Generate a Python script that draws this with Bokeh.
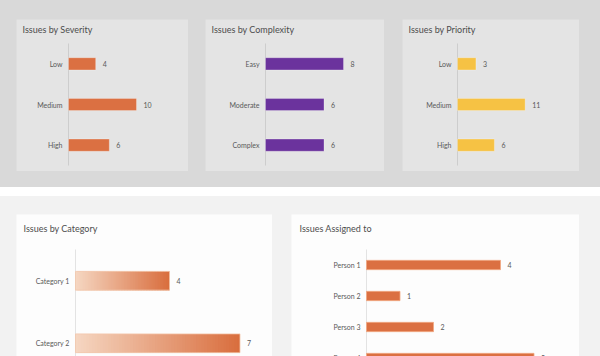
from bokeh.plotting import figure
from bokeh.layouts import row, column
from bokeh.models import Range1d, ColumnDataSource, Label
from bokeh.embed import file_html
from bokeh.resources import INLINE

# ---------------- data ----------------
severity_cats = ["Low", "Medium", "High"]
severity_vals = [4, 10, 6]
complexity_cats = ["Easy", "Moderate", "Complex"]
complexity_vals = [8, 6, 6]
priority_cats = ["Low", "Medium", "High"]
priority_vals = [3, 11, 6]
category_cats = ["Category 1", "Category 2"]
category_vals = [4, 7]
person_cats = ["Person 1", "Person 2", "Person 3", "Person 4"]
person_vals = [4, 1, 2, 5]

FONT = "Lato"
TITLE_COLOR = "#4d4d4d"
LABEL_COLOR = "#595959"
ORANGE = "#db7042"
PURPLE = "#6b339d"
YELLOW = "#f6c244"


def panel(title, cats, vals, width, height, axis_left, px_per_unit, axis_top,
          band_px, title_left, title_center, bg, axis_color):
    """A panel whose plotting area is the whole card; the value axis starts at
    axis_left px, the category bands start axis_top px below the card's top."""
    pos = [i + 0.5 for i in range(len(cats))]
    p = figure(width=width, height=height,
               x_range=Range1d(-axis_left / px_per_unit, (width - axis_left) / px_per_unit),
               y_range=Range1d((height - axis_top) / band_px, -axis_top / band_px),
               x_axis_type=None, y_axis_type=None,
               min_border=0, min_border_left=0, min_border_right=0,
               min_border_top=0, min_border_bottom=0,
               toolbar_location=None, output_backend="svg")
    p.background_fill_color = bg
    p.border_fill_color = bg
    p.outline_line_color = None
    p.xgrid.visible = False
    p.ygrid.visible = False
    src = ColumnDataSource(dict(y=pos, cat=cats, val=vals, lab=[str(v) for v in vals],
                                zero=[0] * len(cats)))
    # category labels (axis labels) and value axis line
    p.text(x="zero", y="y", text="cat", source=src, x_offset=-6, text_align="right",
           text_baseline="middle", text_font_size="7px", text_color=LABEL_COLOR,
           text_font={"value": FONT})
    p.add_layout(Label(x=title_left, y=(title_center - axis_top) / band_px,
                       x_units="screen", y_units="data", text=title,
                       text_font=FONT, text_font_size="9px", text_color=TITLE_COLOR,
                       text_baseline="middle", text_align="left"))
    return p, src, pos


def top_panel(title, cats, vals, color, width, axis_left, ppu):
    n = len(cats)
    band = 122 / n
    p, src, pos = panel(title, cats, vals, width, 152, axis_left, ppu, 24, band,
                        6, 10, "#e4e4e4", "#cdcdcd")
    p.segment(x0=[0], y0=[0], x1=[0], y1=[n], line_color="#cdcdcd", line_width=1)
    p.hbar(y="y", left=0, right="val", height=0.3, source=src,
           fill_color=color, line_color="white", line_alpha=0.35, line_width=0.8)
    p.text(x="val", y="y", text="lab", source=src, x_offset=7,
           text_baseline="middle", text_font_size="7px", text_color=LABEL_COLOR,
           text_font={"value": FONT})
    return p


p1 = top_panel("Issues by Severity", severity_cats, severity_vals, ORANGE, 172, 52, 6.8)
p1.margin = (19, 0, 16, 16)
p2 = top_panel("Issues by Complexity", complexity_cats, complexity_vals, PURPLE, 179, 60, 9.75)
p2.margin = (19, 0, 16, 17)
p3 = top_panel("Issues by Priority", priority_cats, priority_vals, YELLOW, 177, 55, 6.15)
p3.margin = (19, 0, 16, 18)


def bottom_panel(title, cats, vals, width, axis_left, ppu, band, title_left):
    p, src, pos = panel(title, cats, vals, width, 142, axis_left, ppu, 35, band,
                        title_left, 14, "#fdfdfd", "#e3e3e3")
    p.segment(x0=[0], y0=[0], x1=[0], y1=[(142 - 35) / band], line_color="#e3e3e3",
              line_width=1)
    return p, src, pos


# Issues by Category (gradient bars)
p4, src4, pos4 = bottom_panel("Issues by Category", category_cats, category_vals,
                              256, 59, 23.5, 62.5, 7)
p4.margin = (18, 0, 0, 16)
light = (245, 214, 193)
dark = (217, 110, 62)
nsl = 60
for yv, v in zip(pos4, category_vals):
    lefts, rights, cols = [], [], []
    for i in range(nsl):
        t = i / (nsl - 1)
        c = tuple(int(round(light[k] + (dark[k] - light[k]) * t)) for k in range(3))
        lefts.append(v * i / nsl)
        rights.append(min(v, v * (i + 2.5) / nsl))
        cols.append("#%02x%02x%02x" % c)
    p4.hbar(y=[yv] * nsl, left=lefts, right=rights, height=0.3,
            fill_color=cols, line_color=None)
p4.hbar(y="y", left=0, right="val", height=0.3, source=src4,
        fill_color=None, line_color="#f3c6ab", line_width=0.8)
p4.text(x="val", y="y", text="lab", source=src4, x_offset=7, text_baseline="middle",
        text_font_size="7px", text_color=LABEL_COLOR, text_font={"value": FONT})

# Issues Assigned to
p5, src5, pos5 = bottom_panel("Issues Assigned to", person_cats, person_vals,
                              288, 75, 33.5, 31, 8)
p5.margin = (18, 0, 0, 19)
p5.hbar(y="y", left=0, right="val", height=0.3, source=src5,
        fill_color=ORANGE, line_color="#f1a882", line_width=0.8)
p5.text(x="val", y="y", text="lab", source=src5, x_offset=7, text_baseline="middle",
        text_font_size="7px", text_color=LABEL_COLOR, text_font={"value": FONT})

top_row = row(p1, p2, p3, spacing=0, width=600, height=187,
              styles={"background-color": "#d9d9d9"})
bottom_row = row(p4, p5, spacing=0, width=600, height=160,
                 styles={"background-color": "#f2f2f2"})
page = column(top_row, bottom_row, spacing=9, width=600, height=356,
              styles={"background-color": "#ffffff"})

open("out.html", "w").write(file_html(page, INLINE))
